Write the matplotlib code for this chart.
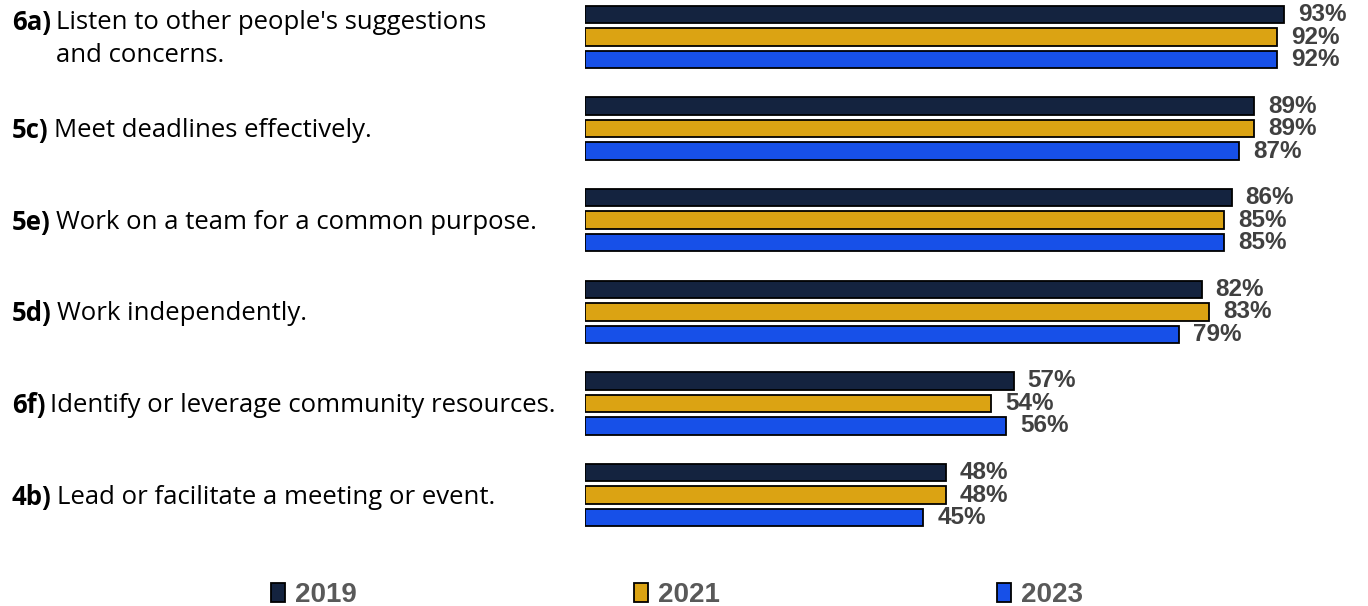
import matplotlib
matplotlib.use("Agg")
import matplotlib.pyplot as plt
from matplotlib.patches import Patch

# Survey items (prefix code + description) and percentages per year
codes = ["6a)", "5c)", "5e)", "5d)", "6f)", "4b)"]
descriptions = [
    "Listen to other people's suggestions\nand concerns.",
    "Meet deadlines effectively.",
    "Work on a team for a common purpose.",
    "Work independently.",
    "Identify or leverage community resources.",
    "Lead or facilitate a meeting or event.",
]
years = ["2019", "2021", "2023"]
values_2019 = [93, 89, 86, 82, 57, 48]
values_2021 = [92, 89, 85, 83, 54, 48]
values_2023 = [92, 87, 85, 79, 56, 45]
series = [values_2019, values_2021, values_2023]
colors = ["#14233f", "#dba313", "#1750e8"]

W, H = 1368, 606
fig = plt.figure(figsize=(W / 100, H / 100), dpi=100)
fig.patch.set_facecolor("white")

ax = fig.add_axes([585 / W, 1 - 550 / H, 752 / W, 550 / H])
ax.set_xlim(0, 100)
ax.set_ylim(5.6, -0.404)
ax.axis("off")

group_px = 91.6
offset = 22.5 / group_px
bar_h = 17.5 / group_px

num_font = ["Liberation Sans", "DejaVu Sans"]
cat_font = ["Open Sans", "DejaVu Sans"]

for k, (vals, col) in enumerate(zip(series, colors)):
    ys = [i + (k - 1) * offset for i in range(len(vals))]
    bars = ax.barh(ys, vals, height=bar_h, color=col, edgecolor="black",
                   linewidth=1.3, label=years[k])
    for b, v in zip(bars, vals):
        ax.annotate(f"{v}%", (b.get_width(), b.get_y() + b.get_height() / 2),
                    xytext=(10, 0), textcoords="offset points",
                    va="center", ha="left", fontsize=17.5, fontweight="bold",
                    color="#404040", family=num_font)

# Category labels: bold code followed by regular description
renderer = fig.canvas.get_renderer()
for i, (code, desc) in enumerate(zip(codes, descriptions)):
    y_fig = 1 - (39 + i * group_px) / H
    nlines = desc.count("\n") + 1
    y_code = y_fig + (0.5 * 34 / H if nlines == 2 else 0)
    t = fig.text(12 / W, y_code, code, fontsize=18.5, fontweight="bold",
                 family=cat_font, va="center", ha="left", color="black")
    bb = t.get_window_extent(renderer)
    fig.text((bb.x1 + 5) / W, y_fig, desc, fontsize=18.5, family=cat_font,
             va="center", ha="left", color="black", linespacing=1.42)

handles = [Patch(facecolor=c, edgecolor="black", linewidth=1.3) for c in colors]
leg = fig.legend(handles, years, loc="center", bbox_to_anchor=(677 / W, 1 - 595 / H),
                 ncol=3, frameon=False, columnspacing=10.0, handlelength=0.5,
                 handleheight=0.65, handletextpad=0.35,
                 prop={"family": num_font, "weight": "bold", "size": 20})
for txt in leg.get_texts():
    txt.set_color("#595959")

fig.savefig("out.png", dpi=100, facecolor="white")
